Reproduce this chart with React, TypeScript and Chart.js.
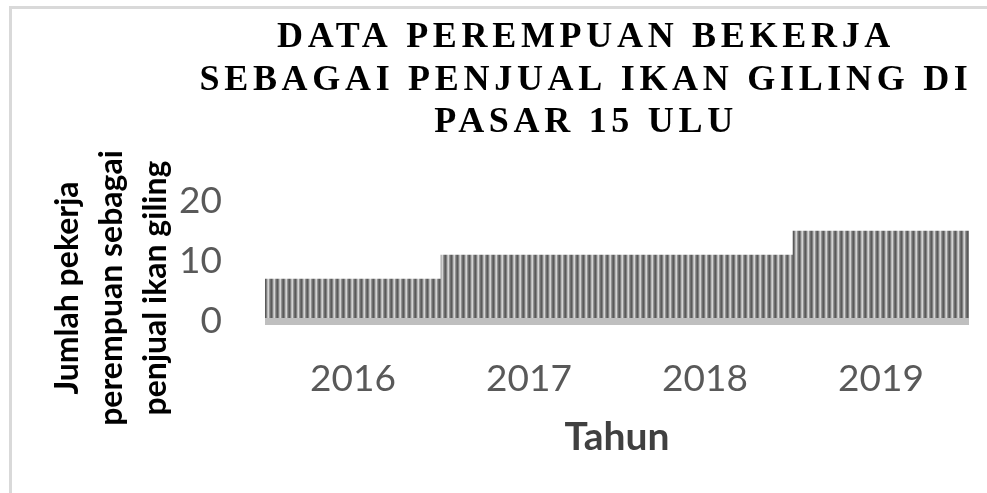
import React, { useEffect, useRef } from 'react';
import { Chart, registerables } from 'chart.js';

Chart.register(...registerables);

const categories = ['2016', '2017', '2018', '2019'];
const values = [7, 11, 11, 15];
const yMin = 0;
const yMax = 20;
const yStep = 10;
const titleLines = ['DATA PEREMPUAN BEKERJA', 'SEBAGAI PENJUAL IKAN GILING DI', 'PASAR 15 ULU'];
const yTitleLines = ['Jumlah pekerja', 'perempuan sebagai', 'penjual ikan giling'];
const xTitle = 'Tahun';
const stripeColors = ['#6e6e6e', '#5a5a5a', '#7f7f7f', '#b8b8b8', '#d4d4d4', '#959595'];

function makePattern(ctx: CanvasRenderingContext2D) {
  const c = document.createElement('canvas');
  c.width = stripeColors.length;
  c.height = 1;
  const g = c.getContext('2d')!;
  stripeColors.forEach((col, i) => {
    g.fillStyle = col;
    g.fillRect(i, 0, 1, 1);
  });
  return ctx.createPattern(c, 'repeat');
}

const decorPlugin = {
  id: 'decor',
  afterDatasetsDraw(chart: any) {
    const { ctx, chartArea } = chart;
    ctx.save();
    ctx.fillStyle = '#bfbfbf';
    ctx.fillRect(chartArea.left, chartArea.bottom - 3, chartArea.right - chartArea.left, 7);
    ctx.restore();
  },
  afterDraw(chart: any) {
    const { ctx } = chart;
    ctx.save();
    // main title
    ctx.fillStyle = '#000000';
    ctx.font = 'bold 36px "Liberation Serif", "Times New Roman", serif';
    (ctx as any).letterSpacing = '4.7px';
    ctx.textAlign = 'center';
    ctx.textBaseline = 'alphabetic';
    const baselines = [47, 90, 132];
    titleLines.forEach((t, i) => ctx.fillText(t, 586, baselines[i]));
    (ctx as any).letterSpacing = '0px';
    // y axis title
    ctx.translate(0, 288);
    ctx.rotate(-Math.PI / 2);
    ctx.font = 'bold 32px Lato, "Open Sans", sans-serif';
    ctx.textBaseline = 'middle';
    ctx.textAlign = 'center';
    const xs = [68, 112, 156];
    yTitleLines.forEach((t, i) => ctx.fillText(t, 0, xs[i]));
    ctx.restore();
  },
};

export default function App() {
  const ref = useRef<HTMLCanvasElement>(null);
  useEffect(() => {
    const canvas = ref.current!;
    const ctx = canvas.getContext('2d')!;
    const pattern = makePattern(ctx);
    const chart = new Chart(ctx, {
      type: 'bar',
      data: {
        labels: categories,
        datasets: [
          {
            data: values,
            backgroundColor: pattern as any,
            borderWidth: 0,
            barPercentage: 1,
            categoryPercentage: 1,
          },
        ],
      },
      options: {
        animation: false,
        responsive: false,
        layout: { padding: { top: 201, left: 0, right: 18, bottom: 0 } },
        plugins: { legend: { display: false }, tooltip: { enabled: false }, title: { display: false } },
        scales: {
          x: {
            grid: { display: false, drawTicks: false },
            border: { display: false },
            ticks: { color: '#595959', font: { family: 'Lato', size: 37 }, padding: 36 },
            title: {
              display: true,
              text: xTitle,
              color: '#404040',
              font: { family: 'Lato', size: 39, weight: 'bold' },
              padding: { top: 0, bottom: 32 },
            },
            afterFit(scale: any) {
              scale.height = 172;
            },
          },
          y: {
            min: yMin,
            max: yMax,
            grid: { display: false, drawTicks: false },
            border: { display: false },
            ticks: { stepSize: yStep, color: '#595959', font: { family: 'Lato', size: 37 }, padding: 43 },
            afterFit(scale: any) {
              scale.width = 265;
            },
          },
        },
      },
      plugins: [decorPlugin],
    });
    return () => chart.destroy();
  }, []);
  return (
    <div style={{ position: 'absolute', left: 0, top: 0, width: 987, height: 493, overflow: 'hidden', background: '#fff' }}>
      <style>{'body{margin:0;overflow:hidden}'}</style>
      <canvas ref={ref} width={987} height={493} style={{ position: 'absolute', left: 0, top: 0 }} />
      <div style={{ position: 'absolute', left: 9, top: 6, width: 978, height: 3, background: '#d9d9d9' }} />
      <div style={{ position: 'absolute', left: 9, top: 6, width: 3, height: 487, background: '#d9d9d9' }} />
    </div>
  );
}
